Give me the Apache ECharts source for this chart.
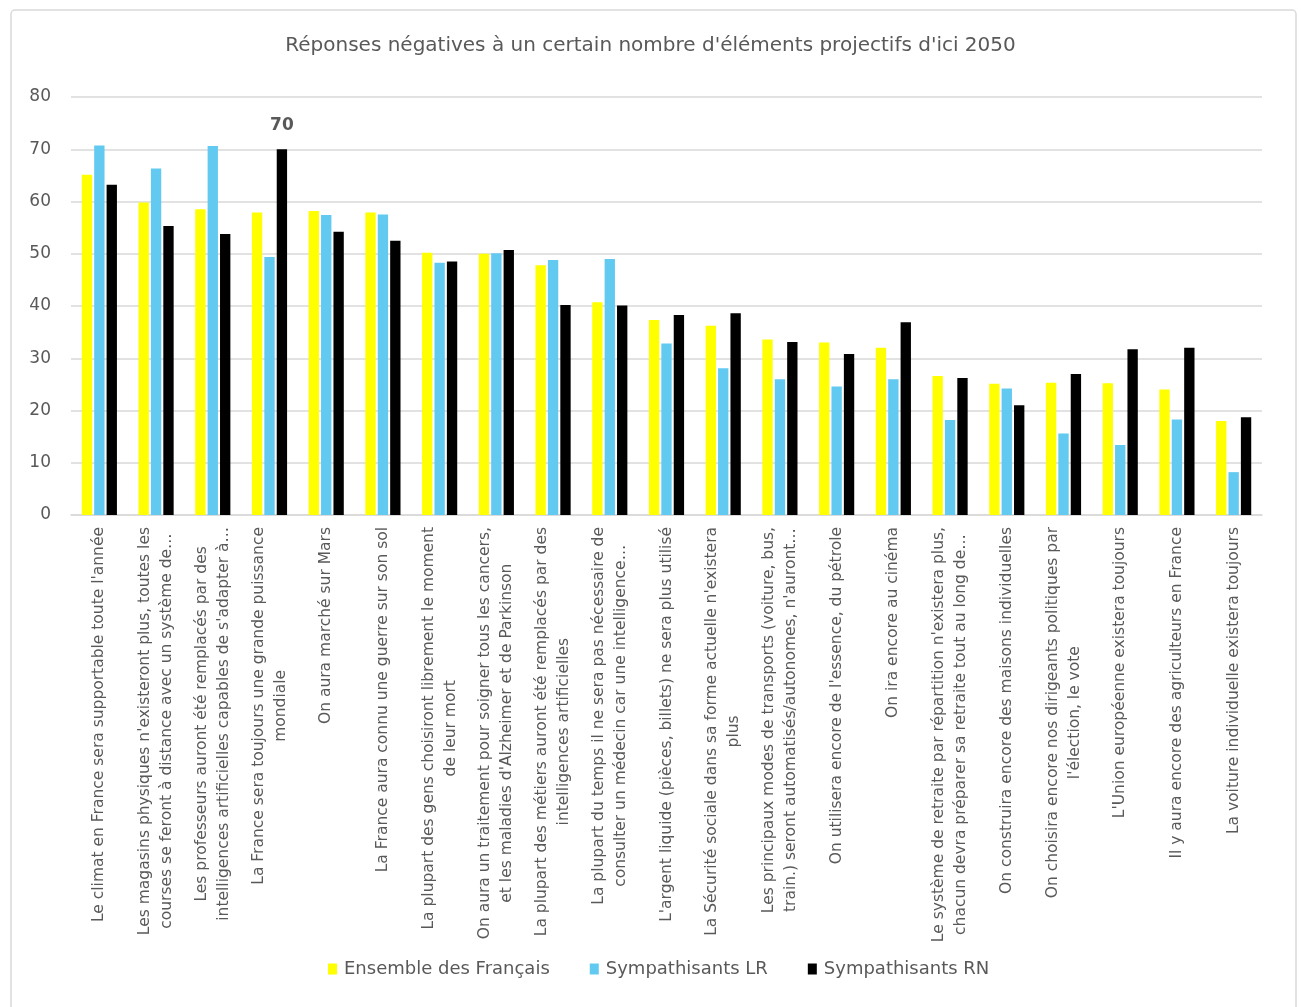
<!DOCTYPE html>
<html>

<head>
    <meta charset="utf-8">
    <title>Réponses négatives 2050</title>
    <style>
        html, body { margin: 0; padding: 0; background: #fff; }
        #chart { width: 1301px; height: 1007px; }
    </style>
</head>

<body>
    <div id="chart"></div>
    <script src="https://cdn.jsdelivr.net/npm/echarts@6/dist/echarts.min.js"></script>
    <script>
    // categories (line breaks as in the original)
    var categories = [
        "Le climat en France sera supportable toute l'année",
        "Les magasins physiques n'existeront plus, toutes les\ncourses se feront à distance avec un système de…",
        "Les professeurs auront été remplacés par des\nintelligences artificielles capables de s'adapter à…",
        "La France sera toujours une grande puissance\nmondiale",
        "On aura marché sur Mars",
        "La France aura connu une guerre sur son sol",
        "La plupart des gens choisiront librement le moment\nde leur mort",
        "On aura un traitement pour soigner tous les cancers,\net les maladies d'Alzheimer et de Parkinson",
        "La plupart des métiers auront été remplacés par des\nintelligences artificielles",
        "La plupart du temps il ne sera pas nécessaire de\nconsulter un médecin car une intelligence…",
        "L'argent liquide (pièces, billets) ne sera plus utilisé",
        "La Sécurité sociale dans sa forme actuelle n'existera\nplus",
        "Les principaux modes de transports (voiture, bus,\ntrain.) seront automatisés/autonomes, n'auront…",
        "On utilisera encore de l'essence, du pétrole",
        "On ira encore au cinéma",
        "Le système de retraite par répartition n'existera plus,\nchacun devra préparer sa retraite tout au long de…",
        "On construira encore des maisons individuelles",
        "On choisira encore nos dirigeants politiques par\nl'élection, le vote",
        "L'Union européenne existera toujours",
        "Il y aura encore des agriculteurs en France",
        "La voiture individuelle existera toujours"
    ];

    var ensemble = [65.1, 59.8, 58.5, 57.9, 58.2, 57.9, 50.2, 50.0, 47.8, 40.7, 37.3, 36.2, 33.6, 33.0, 32.0, 26.6, 25.1, 25.3, 25.2, 24.0, 18.0];
    var lr = [70.7, 66.3, 70.6, 49.4, 57.4, 57.5, 48.3, 50.1, 48.8, 49.0, 32.8, 28.1, 26.0, 24.6, 26.0, 18.2, 24.2, 15.6, 13.4, 18.3, 8.2];
    var rn = [63.2, 55.3, 53.8, 70, 54.2, 52.5, 48.5, 50.7, 40.2, 40.1, 38.3, 38.6, 33.1, 30.8, 36.9, 26.2, 21.0, 27.0, 31.7, 32.0, 18.7];

    var seriesNames = ['Ensemble des Français', 'Sympathisants LR', 'Sympathisants RN'];
    var yTicks = [0, 10, 20, 30, 40, 50, 60, 70, 80];
    var labelledIndex = 3; // seule valeur affichée : 70

    var font = 'DejaVu Sans';
    var grey = '#595959';

    var myChart = echarts.init(document.getElementById('chart'));

    function catLabel(v) {
        return v.split('\n').map(function(s) {
            return '{c|' + s + '}';
        }).join('\n');
    }

    var option = {
        animation: false,
        color: ['#ffff00', '#62caf0', '#000000'],
        textStyle: { fontFamily: font },
        graphic: [{
            type: 'rect',
            shape: { x: 11, y: 10, width: 1285, height: 1020, r: 4 },
            style: { fill: 'none', stroke: '#d9d9d9', lineWidth: 1.5 },
            silent: true
        }],
        title: {
            text: "Réponses négatives à un certain nombre d'éléments projectifs d'ici 2050",
            left: 'center',
            top: 31,
            textStyle: { color: grey, fontSize: 20, fontWeight: 'normal', fontFamily: font }
        },
        legend: {
            data: seriesNames,
            left: 328,
            top: 960,
            padding: 0,
            itemWidth: 9,
            itemHeight: 11,
            itemGap: 40,
            icon: 'rect',
            textStyle: { color: grey, fontSize: 18, fontFamily: font, padding: [0, 0, 0, 2] }
        },
        grid: {
            left: 71,
            right: 39,
            top: 97,
            bottom: 492,
            outerBoundsMode: 'none'
        },
        xAxis: {
            type: 'category',
            data: categories,
            axisLine: { lineStyle: { color: '#d9d9d9', width: 1.5 } },
            axisTick: { show: false },
            axisLabel: {
                interval: 0,
                rotate: 90,
                margin: 12,
                formatter: catLabel,
                rich: {
                    c: { align: 'center', color: grey, fontSize: 15.5, lineHeight: 22, fontFamily: font }
                }
            }
        },
        yAxis: {
            type: 'value',
            min: yTicks[0],
            max: yTicks[yTicks.length - 1],
            interval: 10,
            axisLine: { show: false },
            axisTick: { show: false },
            splitLine: { lineStyle: { color: '#d9d9d9', width: 1.5 } },
            axisLabel: { color: grey, fontSize: 17, margin: 20, fontFamily: font }
        },
        series: [{
            name: seriesNames[0],
            type: 'bar',
            barGap: '20%',
            barCategoryGap: '38%',
            data: ensemble
        }, {
            name: seriesNames[1],
            type: 'bar',
            data: lr
        }, {
            name: seriesNames[2],
            type: 'bar',
            data: rn,
            label: {
                show: true,
                position: 'top',
                distance: 15,
                color: grey,
                fontSize: 17,
                fontWeight: 'bold',
                fontFamily: font,
                formatter: function(p) {
                    return p.dataIndex === labelledIndex ? p.value : '';
                }
            }
        }]
    };

    myChart.setOption(option);
    addEventListener('resize', myChart.resize);
    </script>
</body>

</html>
